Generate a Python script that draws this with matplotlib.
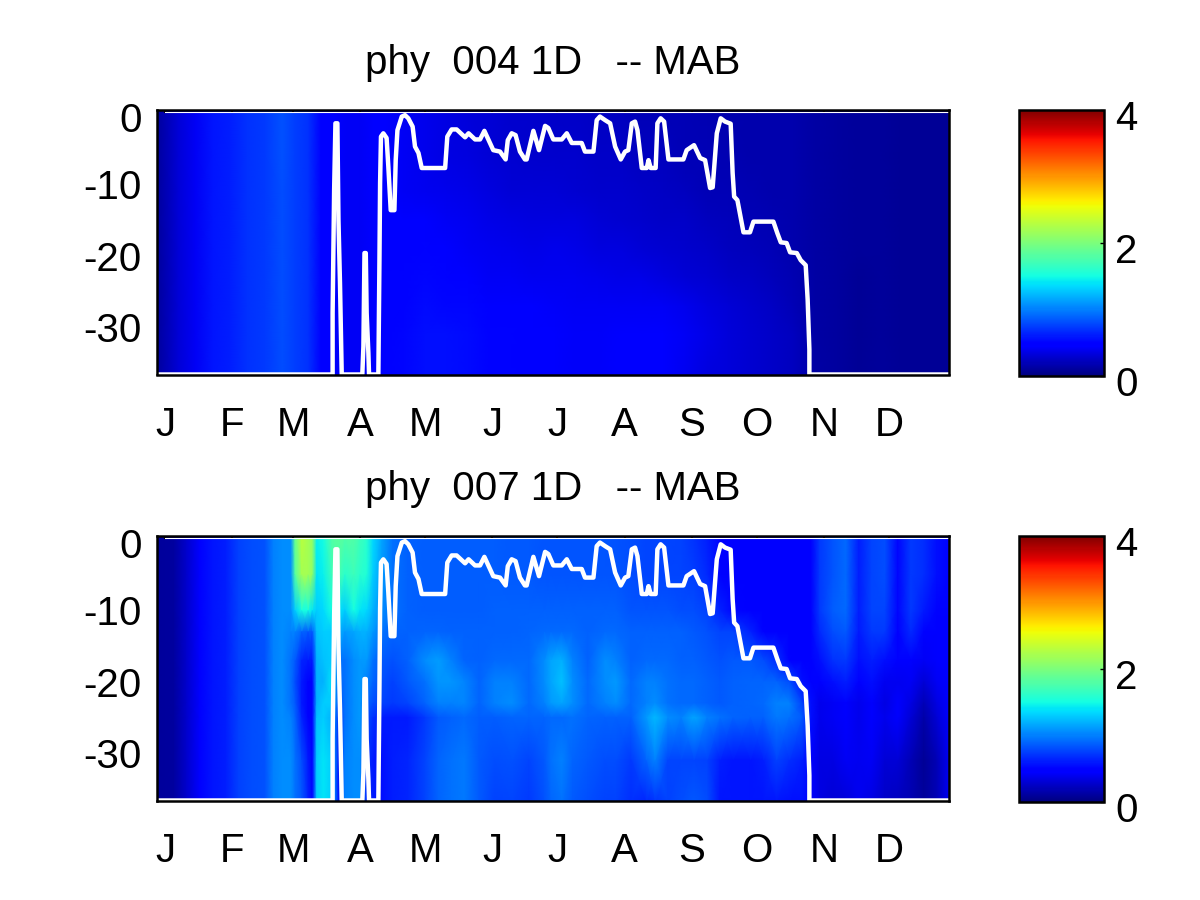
import matplotlib
matplotlib.use("Agg")
import matplotlib.pyplot as plt
import numpy as np
from matplotlib.transforms import ScaledTranslation

plt.rcParams["font.family"] = ["Liberation Sans", "DejaVu Sans"]
plt.rcParams["axes.unicode_minus"] = False

month_days = [0, 31, 59, 90, 120, 151, 181, 212, 243, 273, 304, 334]
month_labels = ["J", "F", "M", "A", "M", "J", "J", "A", "S", "O", "N", "D"]
depth_ticks = [-30, -20, -10, 0]
titles = ["phy  004 1D   -- MAB", "phy  007 1D   -- MAB"]

# white line, day of year / depth
line_day = [-3.8, 77.3, 77.3, 78.0, 78.6, 79.5, 80.0, 80.7, 81.5, 91.0, 91.5, 92.0, 92.6, 93.0, 93.8, 94.1,
            98.4, 98.9, 99.2, 99.6, 100.7, 102.2, 103.0, 104.1, 105.8, 106.4, 107.2, 109.2, 110.7, 112.2,
            114.2, 115.3, 116.9, 118.4, 129.2, 130.2, 132.2, 134.5, 138.4, 140.0, 143.0, 145.3, 147.3,
            151.4, 154.5, 157.1, 158.1, 159.9, 161.7, 163.7, 166.0, 166.8, 169.9, 172.5, 175.3, 176.8,
            179.1, 183.0, 185.3, 187.6, 192.2, 193.7, 197.6, 199.1, 200.6, 203.0, 205.3, 207.6, 210.2,
            212.2, 213.7, 215.3, 216.8, 217.9, 219.9, 222.2, 223.0, 224.0, 226.3, 227.1, 228.6, 230.2,
            232.2, 239.1, 240.6, 244.0, 246.8, 249.1, 251.4, 252.6, 254.5, 256.3, 258.3, 260.9, 261.8,
            262.5, 264.0, 266.8, 269.8, 271.4, 280.6, 282.4, 284.0, 286.7, 288.3, 291.4, 293.2, 295.5,
            296.4, 297.2, 297.2, 361.3]
line_depth = [-36.6, -36.6, -28.0, -10.8, -1.44, -1.44, -15.0, -23.8, -36.6, -36.6, -32.7, -19.6, -19.6, -28.0, -33.6, -36.6,
              -36.6, -20.6, -9.8, -3.3, -2.84, -3.5, -7.5, -13.6, -13.6, -6.6, -2.4, -0.5, -0.3, -0.74,
              -1.9, -4.7, -5.6, -7.7, -7.7, -3.3, -2.3, -2.3, -3.4, -2.84, -3.7, -3.7, -2.5,
              -5.2, -5.4, -6.5, -3.8, -2.84, -3.1, -5.4, -6.5, -6.5, -2.5, -5.2, -1.8, -2.1,
              -3.7, -3.7, -2.84, -4.2, -4.2, -5.4, -5.4, -1.0, -0.5, -1.0, -1.44, -4.7, -6.5,
              -5.4, -5.2, -1.44, -1.2, -2.4, -7.7, -7.7, -6.6, -7.7, -7.7, -1.44, -0.74, -1.2,
              -6.5, -6.5, -5.2, -4.5, -6.3, -6.6, -10.5, -10.4, -2.84, -0.74, -1.2, -1.5, -8.4,
              -11.7, -12.2, -16.7, -16.7, -15.2, -15.2, -16.8, -18.1, -18.2, -19.5, -19.6, -20.6, -21.3,
              -26.1, -33.1, -36.6, -36.6]
# thin white line just under the top frame
top_day = [0, 361.6]
top_depth = [0.2, 0.2]

# phy 004 field, one row per day, one value per depth
days_004 = [-4, 6, 14, 22, 30, 38, 46, 54, 60, 66, 72, 78, 84, 90, 96, 102, 110, 120, 130, 140, 150, 160, 170,
            180, 190, 200, 210, 220, 230, 240, 250, 260, 270, 280, 290, 300, 310, 320, 330, 340, 350, 362]
depths_004 = [0.5, -6, -11, -15, -19, -23, -27, -31, -37]
phy_004 = [
    [.10, .10, .10, .10, .10, .10, .10, .10, .10],
    [.30, .30, .30, .30, .30, .30, .30, .30, .30],
    [.42, .42, .42, .42, .42, .42, .42, .42, .42],
    [.58, .58, .58, .58, .58, .58, .58, .58, .58],
    [.62, .62, .62, .62, .62, .62, .62, .62, .62],
    [.70, .70, .70, .70, .70, .70, .70, .70, .70],
    [.72, .72, .72, .72, .72, .72, .72, .72, .72],
    [.82, .82, .80, .80, .80, .80, .80, .80, .80],
    [.74, .74, .74, .74, .74, .74, .74, .74, .74],
    [.70, .70, .70, .70, .70, .70, .70, .70, .70],
    [.48, .48, .48, .48, .48, .48, .48, .48, .48],
    [.45, .45, .45, .45, .45, .45, .45, .45, .45],
    [.42, .42, .42, .42, .42, .42, .42, .42, .42],
    [.42, .42, .42, .42, .42, .42, .42, .42, .42],
    [.44, .44, .44, .44, .44, .44, .44, .44, .44],
    [.45, .45, .45, .48, .48, .50, .50, .50, .50],
    [.42, .42, .42, .45, .48, .50, .50, .52, .52],
    [.38, .38, .40, .44, .50, .52, .54, .56, .56],
    [.35, .35, .38, .42, .47, .50, .53, .56, .56],
    [.32, .33, .36, .40, .42, .48, .52, .54, .54],
    [.30, .30, .33, .36, .40, .42, .48, .50, .50],
    [.28, .29, .31, .35, .38, .42, .46, .50, .50],
    [.27, .28, .30, .33, .36, .40, .44, .47, .47],
    [.26, .28, .30, .34, .38, .40, .43, .45, .45],
    [.25, .27, .29, .33, .36, .40, .42, .43, .43],
    [.24, .26, .28, .31, .34, .38, .41, .43, .43],
    [.22, .25, .27, .29, .33, .36, .41, .45, .45],
    [.20, .23, .25, .28, .31, .36, .42, .47, .47],
    [.20, .22, .24, .26, .29, .34, .41, .45, .45],
    [.19, .20, .22, .25, .27, .31, .38, .41, .40],
    [.18, .19, .20, .23, .25, .29, .34, .36, .34],
    [.17, .18, .19, .21, .23, .26, .30, .32, .32],
    [.17, .17, .18, .19, .21, .24, .27, .29, .29],
    [.17, .17, .17, .18, .19, .21, .24, .26, .26],
    [.16, .16, .16, .17, .17, .18, .20, .22, .22],
    [.14, .14, .14, .14, .14, .14, .14, .14, .14],
    [.12, .12, .12, .12, .12, .12, .12, .12, .12],
    [.10, .10, .10, .10, .10, .09, .08, .08, .08],
    [.10, .10, .10, .10, .10, .10, .10, .10, .10],
    [.09, .09, .09, .09, .09, .09, .09, .09, .09],
    [.08, .08, .08, .08, .08, .08, .08, .08, .08],
    [.08, .08, .08, .08, .08, .08, .08, .08, .08],
]

# phy 007 field
days_007 = [-4, 4, 10, 16, 22, 28, 34, 40, 46, 50, 54, 58, 60, 63, 66, 68, 70, 73, 77, 80, 83, 87, 90, 93, 96,
            100, 105, 112, 120, 126, 132, 138, 145, 152, 160, 168, 175, 178, 183, 188, 195, 203, 208, 215,
            222, 226, 232, 238, 244, 250, 256, 262, 270, 276, 282, 288, 294, 298, 302, 308, 314, 320, 326,
            332, 338, 344, 350, 356, 362]
depths_007 = [0.5, -5, -10, -13, -17, -20, -23, -25, -31, -37]
phy_007 = [
    [.10, .10, .10, .10, .10, .10, .10, .10, .10, .10],
    [.12, .12, .12, .12, .12, .12, .12, .12, .12, .12],
    [.28, .28, .28, .28, .28, .28, .28, .28, .28, .28],
    [.44, .44, .44, .44, .44, .44, .44, .44, .44, .44],
    [.58, .58, .58, .58, .58, .58, .58, .58, .58, .58],
    [.62, .62, .62, .62, .62, .62, .62, .62, .62, .62],
    [.75, .75, .75, .75, .75, .75, .75, .75, .75, .75],
    [.80, .80, .80, .80, .80, .80, .80, .80, .80, .80],
    [.82, .82, .82, .82, .82, .82, .82, .82, .82, .82],
    [1.0, 1.0, 1.0, 1.0, 1.0, 1.0, 1.0, 1.0, 1.0, 1.0],
    [1.05, 1.05, 1.05, 1.05, 1.05, 1.05, 1.05, 1.05, 1.05, 1.05],
    [1.05, 1.05, 1.05, 1.0, .95, .95, .95, 1.0, 1.05, 1.05],
    [1.9, 1.8, 1.3, 1.0, .85, .80, .85, .90, .95, .95],
    [2.3, 2.2, 1.5, .90, .65, .60, .60, .65, .80, .85],
    [2.2, 2.2, 1.5, .85, .60, .50, .50, .50, .60, .65],
    [2.1, 2.1, 1.4, .85, .60, .48, .48, .48, .50, .50],
    [1.45, 1.4, 1.3, 1.25, 1.2, 1.2, 1.2, 1.25, 1.3, 1.3],
    [1.5, 1.45, 1.35, 1.3, 1.25, 1.2, 1.3, 1.3, 1.4, 1.4],
    [1.8, 1.7, 1.5, 1.3, 1.3, 1.4, 1.3, 1.2, 1.3, 1.3],
    [1.85, 1.75, 1.4, 1.2, .95, .90, .80, .70, .60, .55],
    [1.8, 1.6, 1.3, 1.1, .95, .95, .95, .95, 1.0, 1.0],
    [1.8, 1.7, 1.5, 1.15, 1.05, 1.05, 1.05, 1.05, 1.05, 1.05],
    [1.7, 1.6, 1.4, 1.2, 1.1, 1.1, 1.1, 1.1, 1.05, 1.05],
    [1.6, 1.55, 1.35, 1.2, 1.1, 1.0, .90, .80, .70, .65],
    [1.35, 1.3, 1.2, 1.1, .95, .90, .80, .70, .60, .60],
    [1.15, 1.1, 1.05, .95, .85, .80, .75, .60, .55, .55],
    [.95, .95, .95, .90, .82, .75, .72, .60, .62, .62],
    [.88, .88, .88, .88, .88, .85, .78, .60, .65, .65],
    [.86, .86, .86, .90, 1.05, .95, .90, .72, .78, .78],
    [.86, .86, .86, .90, 1.12, 1.08, 1.0, .85, .90, .90],
    [.86, .86, .86, .88, 1.0, 1.08, 1.0, .88, .95, .95],
    [.86, .86, .86, .88, .90, 1.02, 1.02, .92, .98, .98],
    [.86, .86, .86, .88, .88, .90, .90, .86, .85, .85],
    [.86, .86, .88, .88, .92, 1.0, 1.0, .86, .80, .75],
    [.85, .85, .88, .88, .92, 1.0, 1.05, .90, .82, .78],
    [.85, .85, .88, .90, .92, .92, .92, .90, .78, .72],
    [.84, .84, .88, .92, 1.05, 1.05, 1.0, .90, .85, .82],
    [.84, .84, .88, .92, 1.15, 1.15, 1.1, .92, .95, .90],
    [.84, .84, .88, .92, 1.2, 1.25, 1.15, .92, 1.0, .95],
    [.84, .84, .88, .92, 1.0, 1.05, 1.05, .95, .90, .85],
    [.84, .84, .88, .88, .88, .92, .92, .90, .85, .80],
    [.84, .84, .88, .92, 1.05, 1.05, 1.0, .88, .80, .75],
    [.82, .84, .88, .92, 1.0, 1.1, 1.05, .88, .80, .75],
    [.80, .80, .84, .88, .88, .92, .92, .88, .72, .68],
    [.78, .78, .84, .88, .92, 1.0, 1.0, 1.1, .90, .65],
    [.78, .78, .84, .88, .92, 1.0, 1.05, 1.22, 1.0, .70],
    [.78, .78, .84, .88, .92, .95, .95, 1.05, .78, .75],
    [.76, .78, .80, .88, .88, .92, .92, 1.0, .78, .80],
    [.70, .74, .80, .85, .88, .92, .92, 1.15, .78, .85],
    [.62, .66, .76, .82, .85, .88, .88, 1.0, .75, .80],
    [.50, .50, .64, .78, .82, .85, .85, .95, .62, .58],
    [.46, .46, .52, .78, .85, .88, .88, .90, .58, .58],
    [.46, .46, .46, .64, .85, .90, .90, .88, .58, .58],
    [.46, .46, .46, .50, .80, .90, .92, .88, .62, .58],
    [.46, .46, .46, .46, .68, .90, 1.0, .98, .75, .58],
    [.44, .44, .44, .46, .50, .80, 1.0, .95, .68, .55],
    [.44, .44, .44, .44, .46, .55, .75, .85, .62, .55],
    [.50, .50, .50, .50, .48, .50, .55, .55, .48, .45],
    [.72, .72, .72, .66, .55, .45, .38, .38, .35, .35],
    [.84, .84, .86, .80, .70, .55, .42, .42, .35, .30],
    [.92, .92, .92, .85, .72, .62, .50, .48, .42, .32],
    [.62, .62, .62, .60, .55, .45, .38, .38, .40, .40],
    [.78, .78, .78, .72, .62, .55, .45, .45, .42, .35],
    [.80, .80, .78, .72, .55, .40, .35, .38, .30, .25],
    [.52, .52, .52, .48, .45, .40, .45, .45, .30, .22],
    [.72, .72, .72, .66, .50, .42, .35, .30, .20, .18],
    [.68, .68, .60, .50, .42, .30, .20, .15, .08, .10],
    [.55, .55, .50, .48, .45, .42, .35, .30, .20, .20],
    [.50, .50, .50, .48, .48, .46, .46, .46, .42, .42],
]

W, H = 1200, 900
cmap = plt.get_cmap("jet")
fig = plt.figure(figsize=(W / 100, H / 100), dpi=100)


def box(x0, y0, x1, y1):
    # pixel box from the top left corner -> figure fraction
    return [x0 / W, 1 - y1 / H, (x1 - x0) / W, (y1 - y0) / H]


def nudge(labels, dy):
    for lab in labels:
        lab.set_transform(lab.get_transform() + ScaledTranslation(0, -dy / 100, fig.dpi_scale_trans))


def panel(top, days, depths, field, title):
    ax = fig.add_axes(box(157, top, 949, top + 264.5))
    mesh = ax.pcolormesh(days, depths, np.array(field).T, shading="gouraud", cmap=cmap, vmin=0, vmax=4)
    ax.plot(line_day, line_depth, color="white", lw=3.2, solid_joinstyle="round")
    ax.plot(top_day, top_depth, color="white", lw=0.8)
    ax.set_xlim(-3.7, 361.6)
    ax.set_ylim(-36.6, 0.42)
    ax.set_xticks(month_days)
    ax.set_xticklabels(month_labels)
    ax.set_yticks(depth_ticks)
    ax.tick_params(axis="x", direction="in", length=2.5, width=1.5, top=True, bottom=False, labelsize=29, pad=22.5)
    ax.tick_params(axis="y", length=0, labelsize=29, pad=11)
    for s in ax.spines.values():
        s.set_linewidth(1.8)
    nudge([ax.get_yticklabels()[-1]], 4)
    ax.set_title(title, fontsize=29, pad=26)

    cax = fig.add_axes(box(1019, top, 1104, top + 266))
    cb = fig.colorbar(mesh, cax=cax, ticks=[0, 2, 4])
    cb.ax.tick_params(direction="in", length=3, width=1, labelsize=29, pad=8)
    cb.outline.set_linewidth(1.8)
    nudge(cb.ax.get_yticklabels(), 5)
    return ax


panel(110, days_004, depths_004, phy_004, titles[0])
panel(536, days_007, depths_007, phy_007, titles[1])

fig.savefig("out.png", dpi=100)
